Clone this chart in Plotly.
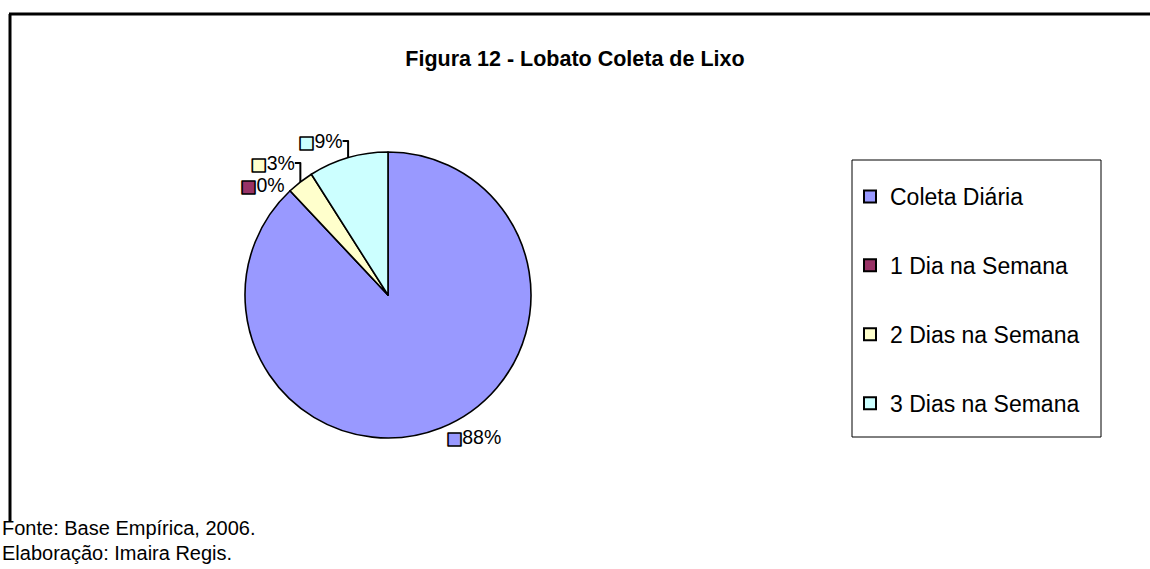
import plotly.graph_objects as go

# Garbage collection frequency in Lobato
categories = ["Coleta Diária", "1 Dia na Semana", "2 Dias na Semana", "3 Dias na Semana"]
percentages = [88, 0, 3, 9]
colors = ["#9999FF", "#993366", "#FFFFCC", "#CCFFFF"]

title_text = "Figura 12 - Lobato Coleta de Lixo"
source_lines = ["Fonte: Base Empírica, 2006.", "Elaboração: Imaira Regis."]

W, H = 1150, 569
FONT = "Liberation Sans, Arial, sans-serif"


def px_x(x):
    return x / W


def px_y(y):
    return 1 - y / H


# Outside labels: bordered colour square followed by the percentage
slice_text = [
    "<span style='font-family:DejaVu Sans;font-size:17px;"
    f"color:{c};stroke:black;stroke-width:1.6px'>■</span>{v}%"
    for c, v in zip(colors, percentages)
]

fig = go.Figure()

fig.add_trace(go.Pie(
    labels=categories,
    values=percentages,
    text=slice_text,
    textinfo="text",
    textposition="outside",
    textfont=dict(family=FONT, size=19.5, color="black"),
    marker=dict(colors=colors, line=dict(color="black", width=1.6)),
    sort=False,
    direction="clockwise",
    rotation=0,
    showlegend=False,
    domain=dict(x=[px_x(245), px_x(531)], y=[px_y(438), px_y(152)]),
    hoverinfo="label+percent",
))

# Legend entries, one group each so the vertical spacing can be set
for name, c in zip(categories, colors):
    fig.add_trace(go.Scatter(
        x=[None], y=[None], mode="markers", name=name, legendgroup=name,
        marker=dict(symbol="square", size=12, color=c,
                    line=dict(color="black", width=2)),
        showlegend=True,
    ))

shapes = [
    # chart frame (left and top edges)
    dict(type="line", xref="paper", yref="paper",
         x0=px_x(10), x1=px_x(10), y0=px_y(14), y1=px_y(522),
         line=dict(color="black", width=3)),
    dict(type="line", xref="paper", yref="paper",
         x0=px_x(9), x1=1, y0=px_y(14), y1=px_y(14),
         line=dict(color="black", width=3)),
    # legend box
    dict(type="rect", xref="paper", yref="paper",
         x0=px_x(852), x1=px_x(1101), y0=px_y(437), y1=px_y(160),
         line=dict(color="black", width=1), fillcolor="rgba(0,0,0,0)"),
]

annotations = [
    dict(text=source_lines[0], xref="paper", yref="paper",
         x=px_x(0), y=px_y(528), xanchor="left", yanchor="middle",
         showarrow=False, font=dict(family=FONT, size=20, color="black")),
    dict(text=source_lines[1], xref="paper", yref="paper",
         x=px_x(0), y=px_y(553), xanchor="left", yanchor="middle",
         showarrow=False, font=dict(family=FONT, size=20, color="black")),
]

fig.update_layout(
    width=W, height=H,
    margin=dict(l=0, r=0, t=0, b=0),
    paper_bgcolor="white", plot_bgcolor="white",
    title=dict(text=f"<b>{title_text}</b>", x=0.5, xanchor="center",
               y=px_y(58), yanchor="middle",
               font=dict(family=FONT, size=21.5, color="black")),
    xaxis=dict(visible=False), yaxis=dict(visible=False),
    legend=dict(x=px_x(850), y=px_y(175), xanchor="left", yanchor="top",
                bgcolor="rgba(0,0,0,0)", borderwidth=0,
                font=dict(family=FONT, size=23, color="black"),
                tracegroupgap=36, itemclick=False, itemdoubleclick=False),
    shapes=shapes,
    annotations=annotations,
)

fig.write_html("out.html")
